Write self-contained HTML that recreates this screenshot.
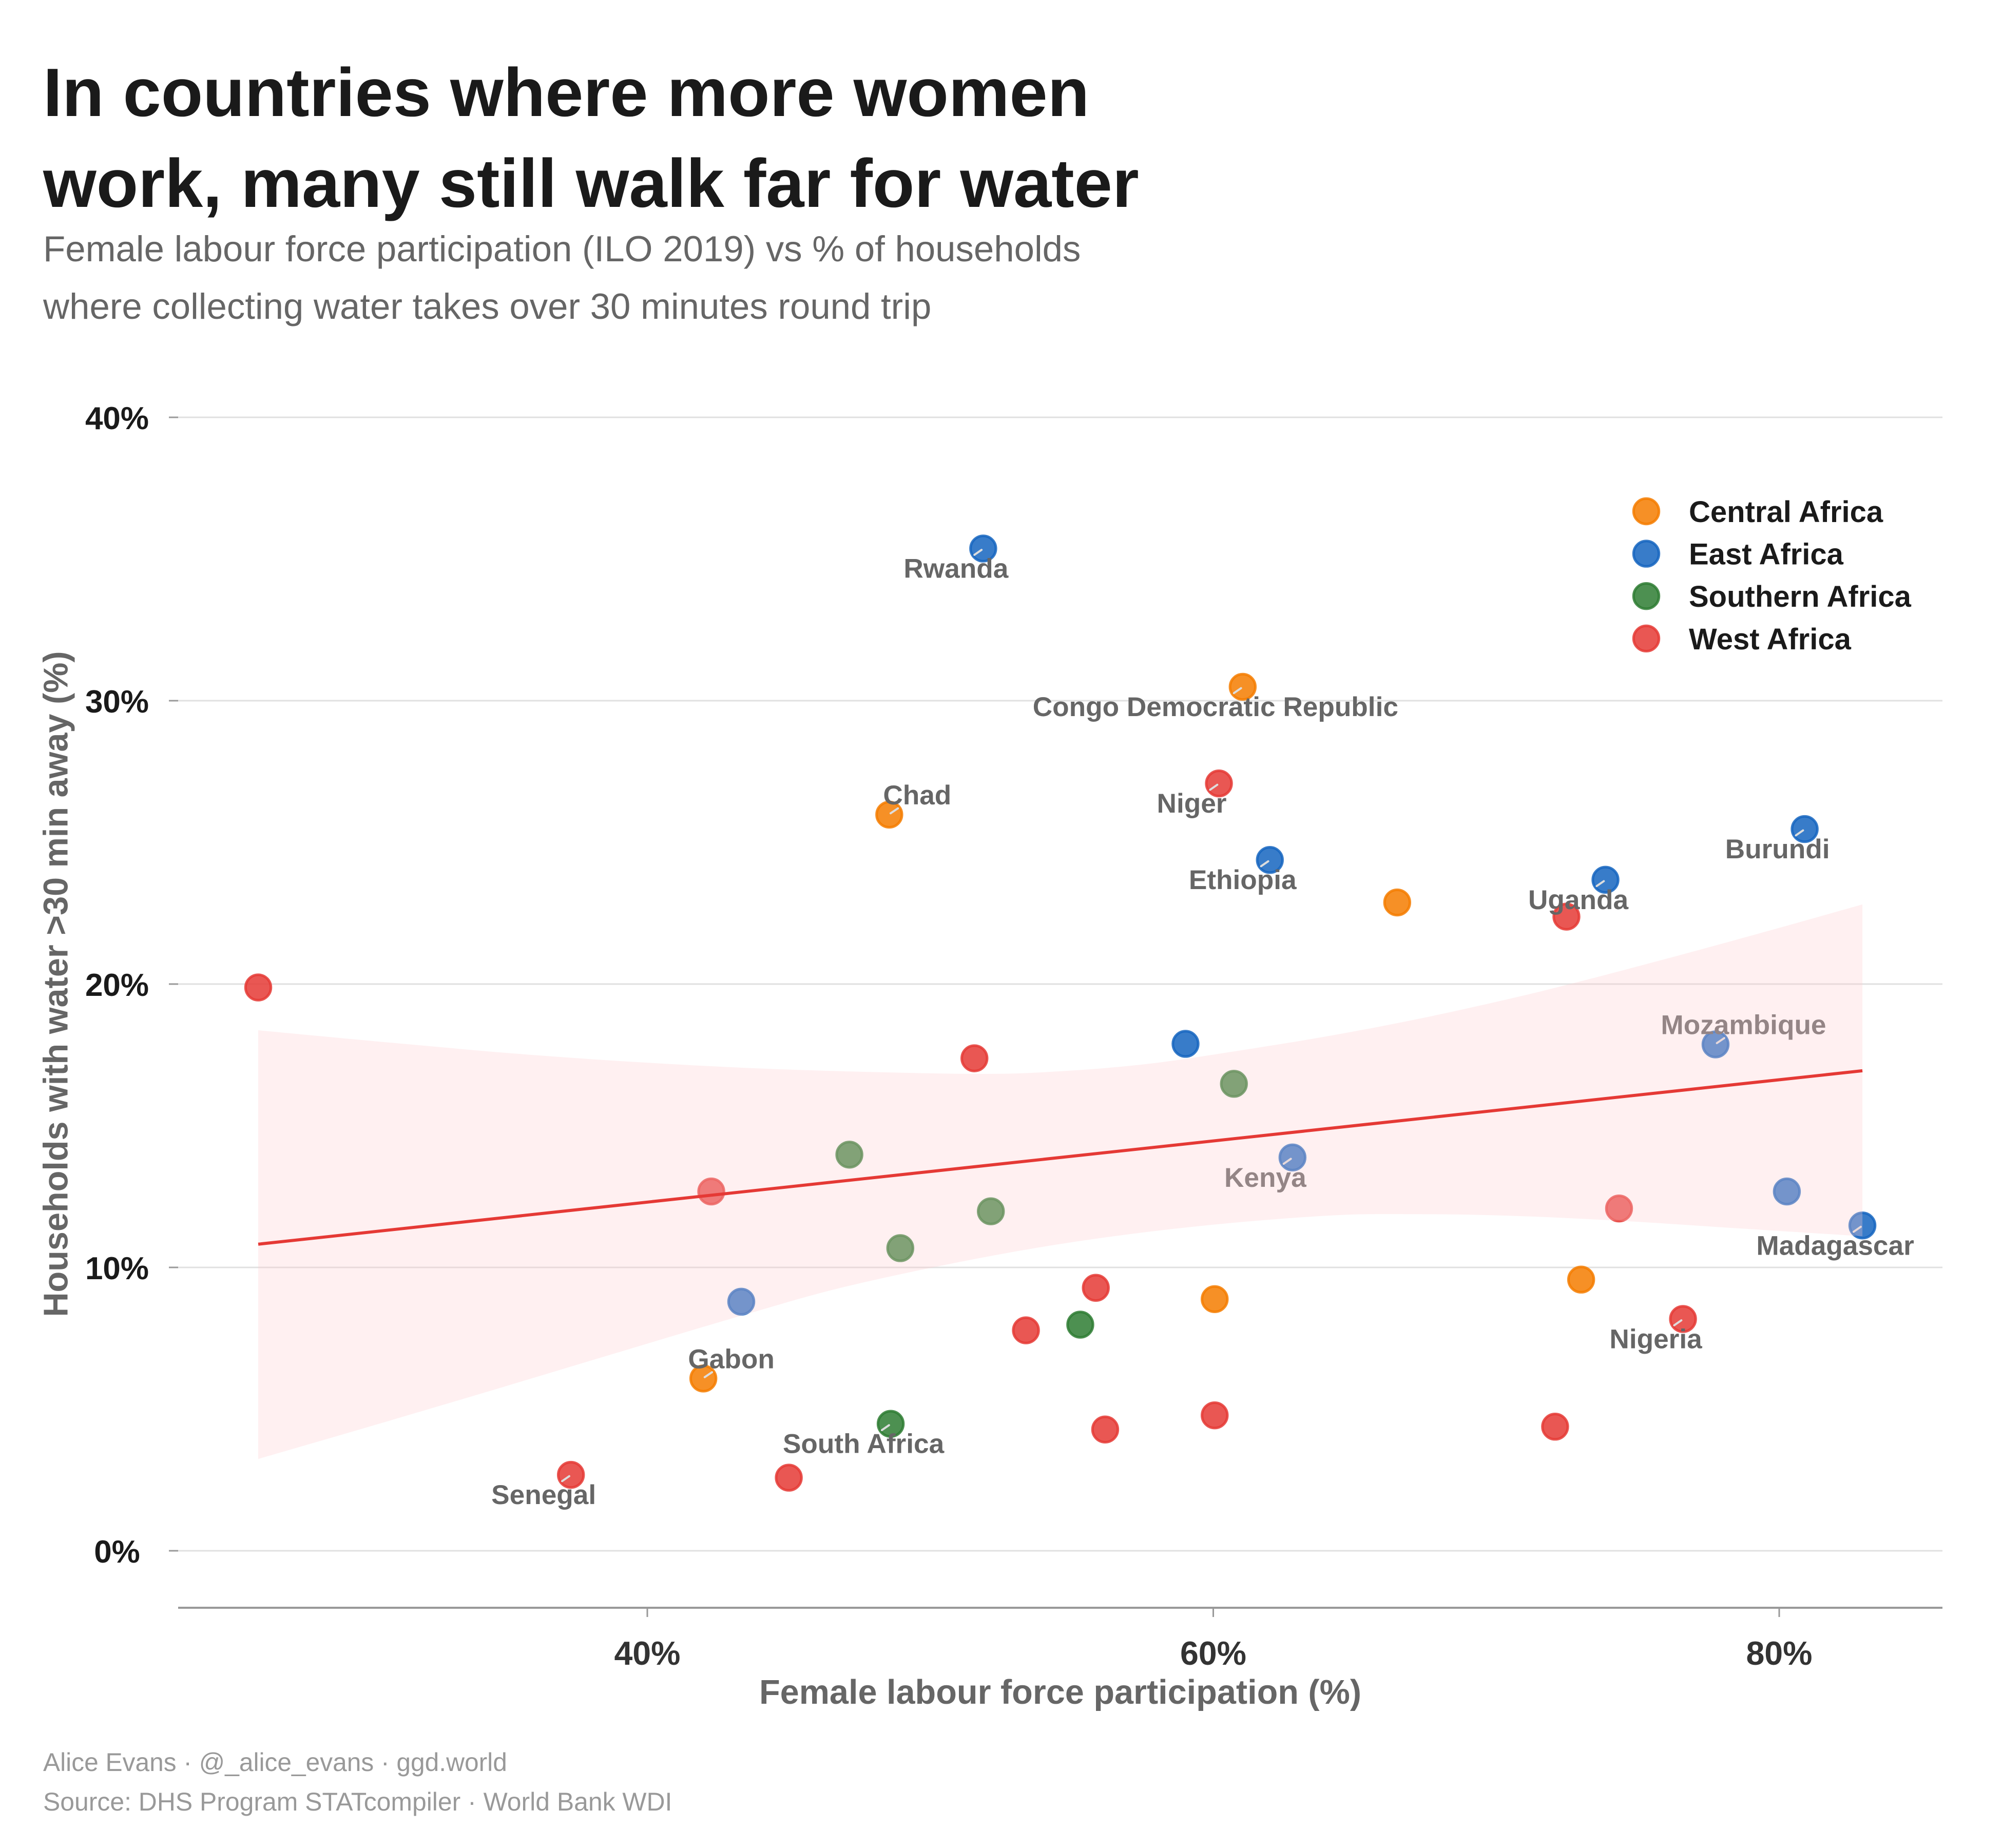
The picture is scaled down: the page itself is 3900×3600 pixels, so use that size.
<!DOCTYPE html>
<html lang="en">
<head>
<meta charset="utf-8">
<title>In countries where more women work, many still walk far for water</title>
<style>
  html, body { margin: 0; padding: 0; background: #ffffff; }
  svg { display: block; font-family: "Liberation Sans", Arial, sans-serif; }
</style>
</head>
<body>
<svg id="chart" xmlns="http://www.w3.org/2000/svg" width="3900" height="3600" viewBox="0 0 3900 3600">
  <rect x="0" y="0" width="3900" height="3600" fill="#ffffff"/>
  <text x="84" y="226" font-size="133.4" font-weight="700" fill="#1a1a1a">In countries where more women</text>
  <text x="84" y="403" font-size="133.4" font-weight="700" fill="#1a1a1a">work, many still walk far for water</text>
  <text x="84" y="509" font-size="70.75" fill="#666666">Female labour force participation (ILO 2019) vs % of households</text>
  <text x="84" y="621" font-size="70.75" fill="#666666">where collecting water takes over 30 minutes round trip</text>
  <g id="grid"></g>
  <g id="axes"></g>
  <g id="points"></g>
  <g id="segments"></g>
  <g id="labels"></g>
  <path id="ribbon" fill="#FFCDD2" fill-opacity="0.3"></path>
  <line id="trend" stroke="#E53935" stroke-width="6"></line>
  <text x="2065.5" y="3319" font-size="66.6" font-weight="700" fill="#666666" text-anchor="middle">Female labour force participation (%)</text>
  <text transform="translate(131.7 1917) rotate(-90)" font-size="66.6" font-weight="700" fill="#666666" text-anchor="middle">Households with water &gt;30 min away (%)</text>
  <g id="legend"></g>
  <text x="84" y="3450" font-size="49.7" fill="#999999">Alice Evans · @_alice_evans · ggd.world</text>
  <text x="84" y="3527" font-size="49.9" fill="#999999">Source: DHS Program STATcompiler · World Bank WDI</text>
</svg>
<script>
const xTicks = [40, 60, 80];
const yTicks = [0, 10, 20, 30, 40];
const regionNames = ["Central Africa", "East Africa", "Southern Africa", "West Africa"];

const countryNames = [
  "Congo Democratic Republic", "Chad", "", "", "", "Gabon",
  "Rwanda", "Ethiopia", "Uganda", "Burundi", "Mozambique", "", "Kenya", "", "Madagascar", "",
  "", "", "", "", "", "South Africa",
  "Niger", "Nigeria", "", "", "", "", "", "", "", "", "", "", "Senegal", ""
];
const countryRegions = [
  0, 0, 0, 0, 0, 0,
  1, 1, 1, 1, 1, 1, 1, 1, 1, 1,
  2, 2, 2, 2, 2, 2,
  3, 3, 3, 3, 3, 3, 3, 3, 3, 3, 3, 3, 3, 3
];
const femaleLabourShare = [
  61.04, 48.55, 66.5, 73.0, 60.05, 41.98,
  51.87, 62.0, 73.86, 80.9, 77.75, 59.02, 62.8, 80.27, 82.94, 43.32,
  60.73, 47.14, 52.14, 48.94, 55.3, 48.6,
  60.2, 76.6, 72.48, 26.25, 51.56, 42.26, 74.34, 55.85, 53.38, 56.18, 60.05, 72.08, 37.3, 45.0
];
const householdsFarShare = [
  30.49, 25.98, 22.88, 9.57, 8.88, 6.08,
  35.37, 24.38, 23.68, 25.47, 17.87, 17.89, 13.88, 12.68, 11.48, 8.79,
  16.48, 13.98, 11.98, 10.68, 7.98, 4.48,
  27.08, 8.18, 22.38, 19.88, 17.38, 12.68, 12.08, 9.28, 7.78, 4.28, 4.78, 4.38, 2.68, 2.58
];
const labelsAbove = ["Chad", "Gabon", "Mozambique"];

const trendX = [26.25, 82.94];
const trendY = [10.82, 16.94];

const ribbonUpperX = [26.25, 31.06, 35.92, 40.78, 45.63, 51.59, 54.7, 57.83, 60.97, 64.1, 67.2, 70.3, 72.84, 76.6, 79.7, 82.94];
const ribbonUpperY = [18.37, 17.92, 17.5, 17.18, 16.96, 16.83, 16.93, 17.2, 17.66, 18.17, 18.76, 19.44, 20.06, 21.05, 21.9, 22.81];
const ribbonLowerX = [26.25, 30.0, 34.3, 38.8, 43.3, 47.0, 51.8, 55.76, 59.9, 64.1, 66.8, 70.3, 74.3, 78.7, 82.94];
const ribbonLowerY = [3.24, 4.33, 5.6, 6.95, 8.29, 9.32, 10.34, 11.0, 11.5, 11.83, 11.88, 11.83, 11.65, 11.37, 11.1];

const SVG_NS = "http://www.w3.org/2000/svg";
const regionColors = ["#F57C00", "#1565C0", "#2E7D32", "#E53935"];
const plotLeft = 347, plotRight = 3784, axisY = 3132;

function xScale(v) { return 1261 + (v - 40) * 55.125; }
function yScale(v) { return 3021 - v * 55.2; }

function make(tag, attrs, parent) {
  const el = document.createElementNS(SVG_NS, tag);
  for (const k in attrs) el.setAttribute(k, attrs[k]);
  parent.appendChild(el);
  return el;
}

const gridG = document.getElementById("grid");
const axesG = document.getElementById("axes");
const pointsG = document.getElementById("points");
const segmentsG = document.getElementById("segments");
const labelsG = document.getElementById("labels");
const legendG = document.getElementById("legend");

yTicks.forEach(function (v) {
  const gl = make("line", { x1: plotLeft, x2: plotRight, y1: yScale(v), y2: yScale(v), stroke: "#e0e0e0", "stroke-width": 3 }, gridG);
  
  
  const tk = make("line", { x1: plotLeft - 18, x2: plotLeft, y1: yScale(v), y2: yScale(v), stroke: "#999999", "stroke-width": 3 }, axesG);
  
  
  const tl = make("text", { x: 228, y: yScale(v) + 23, "font-size": 62, "font-weight": 700, fill: "#1a1a1a", "text-anchor": "middle" }, axesG);
  
  
  tl.textContent = v + "%";
});

const xAxisLine = make("line", { x1: plotLeft, x2: plotRight, y1: axisY, y2: axisY, stroke: "#999999", "stroke-width": 4 }, axesG);



xTicks.forEach(function (v) {
  const tk = make("line", { x1: xScale(v), x2: xScale(v), y1: axisY, y2: axisY + 18, stroke: "#999999", "stroke-width": 3 }, axesG);
  
  
  const tl = make("text", { x: xScale(v), y: 3243, "font-size": 64.5, "font-weight": 700, fill: "#333333", "text-anchor": "middle" }, axesG);
  
  
  tl.textContent = v + "%";
});

function dotAttrs(cx, cy, color) {
  return { cx: cx, cy: cy, r: 24.7, fill: color, "fill-opacity": 0.85, stroke: color, "stroke-opacity": 0.85, "stroke-width": 5 };
}

femaleLabourShare.forEach(function (xv, i) {
  const cx = xScale(xv), cy = yScale(householdsFarShare[i]);
  const dot = make("circle", dotAttrs(cx, cy, regionColors[countryRegions[i]]), pointsG);
  
  

  const name = countryNames[i];
  if (!name) return;
  const above = labelsAbove.indexOf(name) >= 0;
  const seg = above
    ? { x1: cx + 2.6, y1: cy - 2.6, x2: cx + 17, y2: cy - 12.3 }
    : { x1: cx - 3.2, y1: cy + 2.6, x2: cx - 17.2, y2: cy + 12.3 };
  seg.stroke = "#dddddd";
  seg["stroke-width"] = 4;
  seg["stroke-linecap"] = "round";
  const connector = make("line", seg, segmentsG);
  
  

  const label = make("text", {
    x: above ? cx + 54.5 : cx - 53,
    y: above ? cy - 20 : cy + 57,
    "font-size": 53.2, "font-weight": 700, fill: "#666666", "text-anchor": "middle"
  }, labelsG);
  
  
  label.textContent = name;
});

function smoothSegments(pts) {
  let d = "";
  for (let i = 0; i < pts.length - 1; i++) {
    const p0 = pts[Math.max(0, i - 1)], p1 = pts[i], p2 = pts[i + 1], p3 = pts[Math.min(pts.length - 1, i + 2)];
    const c1x = p1[0] + (p2[0] - p0[0]) / 6, c1y = p1[1] + (p2[1] - p0[1]) / 6;
    const c2x = p2[0] - (p3[0] - p1[0]) / 6, c2y = p2[1] - (p3[1] - p1[1]) / 6;
    d += " C" + c1x.toFixed(1) + " " + c1y.toFixed(1) + " " + c2x.toFixed(1) + " " + c2y.toFixed(1) + " " + p2[0].toFixed(1) + " " + p2[1].toFixed(1);
  }
  return d;
}

const upperPts = ribbonUpperX.map(function (x, i) { return [xScale(x), yScale(ribbonUpperY[i])]; });
const lowerPts = ribbonLowerX.map(function (x, i) { return [xScale(x), yScale(ribbonLowerY[i])]; }).reverse();
document.getElementById("ribbon").setAttribute("d",
  "M" + upperPts[0][0].toFixed(1) + " " + upperPts[0][1].toFixed(1) + smoothSegments(upperPts) +
  " L" + lowerPts[0][0].toFixed(1) + " " + lowerPts[0][1].toFixed(1) + smoothSegments(lowerPts) + " Z");

const trend = document.getElementById("trend");
trend.setAttribute("x1", xScale(trendX[0]));
trend.setAttribute("y1", yScale(trendY[0]));
trend.setAttribute("x2", xScale(trendX[1]));
trend.setAttribute("y2", yScale(trendY[1]));

regionNames.forEach(function (name, i) {
  const cy = 996 + i * 82.6;
  const swatch = make("circle", dotAttrs(3207, cy, regionColors[i]), legendG);
  
  
  const txt = make("text", { x: 3290, y: cy + 21, "font-size": 58, "font-weight": 700, fill: "#1a1a1a" }, legendG);
  
  
  txt.textContent = name;
});
</script>
</body>
</html>
